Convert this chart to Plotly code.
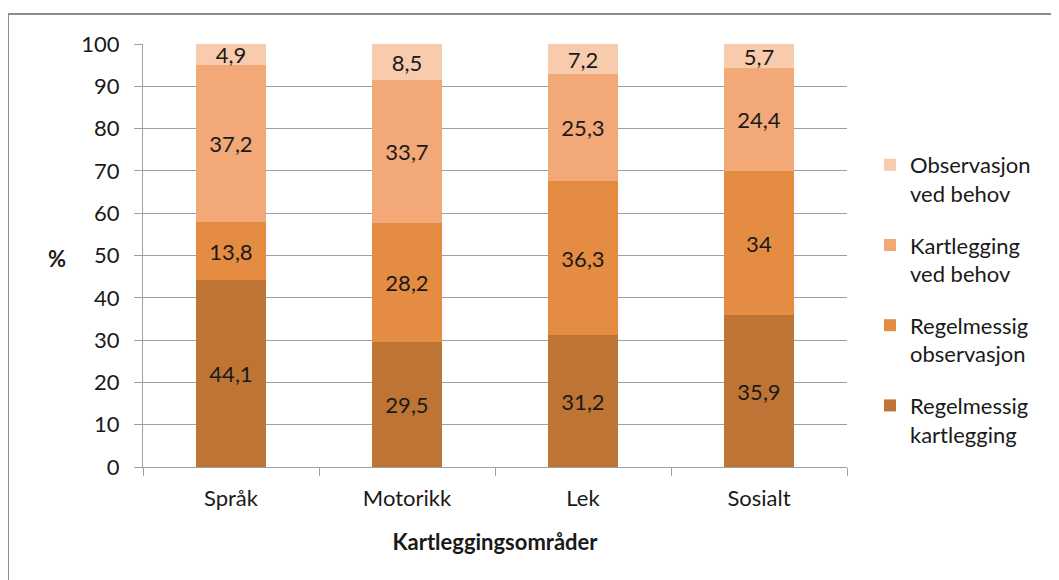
import plotly.graph_objects as go

categories = ["Språk", "Motorikk", "Lek", "Sosialt"]
series_names = ["Regelmessig<br>kartlegging", "Regelmessig<br>observasjon",
                "Kartlegging<br>ved behov", "Observasjon<br>ved behov"]
regelmessig_kartlegging = [44.1, 29.5, 31.2, 35.9]
regelmessig_observasjon = [13.8, 28.2, 36.3, 34]
kartlegging_ved_behov = [37.2, 33.7, 25.3, 24.4]
observasjon_ved_behov = [4.9, 8.5, 7.2, 5.7]
y_ticks = [0, 10, 20, 30, 40, 50, 60, 70, 80, 90, 100]

series_values = [regelmessig_kartlegging, regelmessig_observasjon,
                 kartlegging_ved_behov, observasjon_ved_behov]
colors = ["#BE7435", "#E38C42", "#F2A877", "#F8CBAD"]

FONT = "Lato"
FS = 22
TXT = "#1a1a1a"

# page has an 8px body margin; work in page coordinates and convert
OFF = 8
W, H = 1059 - OFF, 580 - OFF
PL, PR, PT, PB = 143, 847, 44, 467  # plot area in page coords
L, T = PL - OFF, PT - OFF
pw, ph = PR - PL, PB - PT
R = W - L - pw
B = H - T - ph

def px(x):
    return (x - PL) / pw

def py(y):
    return (PB - y) / ph

fig = go.Figure()
n = len(series_values)
for i, (name, vals, col) in enumerate(zip(series_names, series_values, colors)):
    fig.add_trace(go.Bar(
        x=categories, y=vals, name=name,
        marker=dict(color=col, line=dict(width=0)),
        text=[f"{v:g}".replace(".", ",") for v in vals],
        textposition="inside", insidetextanchor="middle",
        constraintext="none",
        textfont=dict(family=FONT, size=FS, color=TXT),
        legendgroup=f"g{i}", legendrank=n - i,
    ))

fig.update_layout(
    width=W, height=H,
    margin=dict(l=L, r=R, t=T, b=B, autoexpand=False),
    barmode="stack", bargap=0.6,
    paper_bgcolor="white", plot_bgcolor="white",
    font=dict(family=FONT, size=FS, color=TXT),
    showlegend=True,
    legend=dict(
        x=px(870), y=py(144), xanchor="left", yanchor="top",
        traceorder="grouped", tracegroupgap=20,
        valign="top", font=dict(family=FONT, size=FS, color=TXT),
        itemwidth=30,
    ),
    xaxis=dict(
        showgrid=False, showline=True, linecolor="#A0A0A0", linewidth=1,
        ticks="outside", ticklen=8, tickcolor="#A0A0A0", tickson="boundaries",
        ticklabelstandoff=12,
        tickfont=dict(family=FONT, size=FS, color=TXT),
        title=dict(text="<b>Kartleggingsområder</b>", standoff=24,
                   font=dict(family=FONT, size=FS, color=TXT)),
    ),
    yaxis=dict(
        range=[0, 100], tickvals=y_ticks,
        showgrid=True, gridcolor="#A0A0A0", gridwidth=1,
        showline=True, linecolor="#A0A0A0", linewidth=1,
        ticks="outside", ticklen=8, tickcolor="#A0A0A0",
        ticklabelstandoff=10,
        tickfont=dict(family=FONT, size=FS, color=TXT),
        zeroline=False,
    ),
    shapes=[dict(type="rect", xref="paper", yref="paper",
                 x0=px(8), x1=px(1080), y0=py(620), y1=py(14),
                 line=dict(color="#8C8C8C", width=2), fillcolor="rgba(0,0,0,0)",
                 layer="below")],
    annotations=[dict(text="<b>%</b>", xref="paper", yref="paper",
                      x=px(57), y=py(258), showarrow=False,
                      xanchor="center", yanchor="middle",
                      font=dict(family=FONT, size=FS, color=TXT))],
)

fig.write_html("out.html")
